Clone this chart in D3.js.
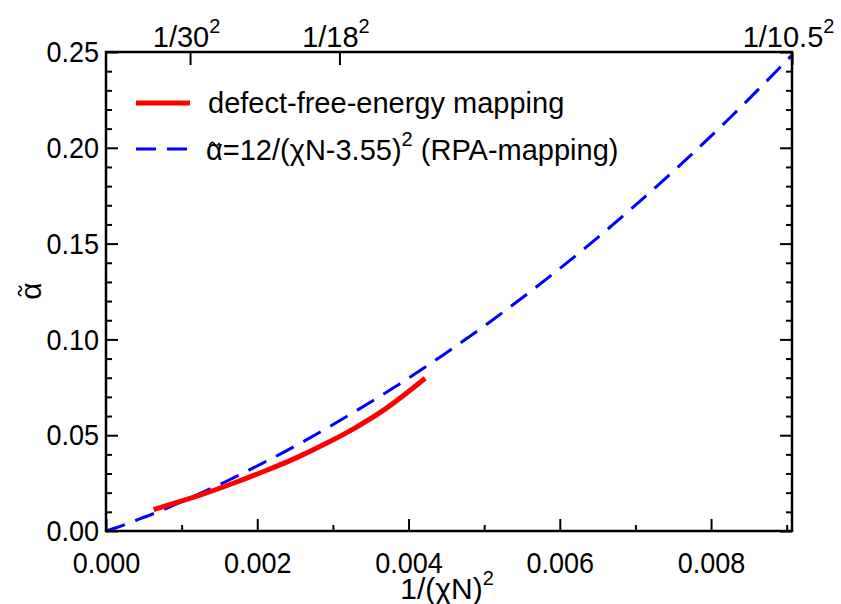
<!DOCTYPE html>
<html>
<head>
<meta charset="utf-8">
<script src="https://cdn.jsdelivr.net/npm/d3@7"></script>
<style>
  html, body { margin: 0; padding: 0; background: #fff; }
  svg text { font-family: "Liberation Sans", Arial, sans-serif; fill: #000; }
</style>
</head>
<body>
<svg id="chart" width="841" height="604"></svg>
<script>
// ── Data ──
// defect-free-energy mapping (red solid)
const redX = [0.00063, 0.0008, 0.0011, 0.0013, 0.0017, 0.0021, 0.0025, 0.0029, 0.0033, 0.0037, 0.00422];
const redY = [0.0112, 0.0133, 0.0169, 0.0195, 0.0252, 0.0313, 0.0379, 0.0455, 0.0540, 0.0639, 0.0797];
// RPA-mapping (blue dashed)
const blueX = [0, 0.0001, 0.000204, 0.0004, 0.000625, 0.000816, 0.001111, 0.0016, 0.002066, 0.0025, 0.003086, 0.003906, 0.004444, 0.005102, 0.005917, 0.006944, 0.008264, 0.00907];
const blueY = [0, 0.0013, 0.0027, 0.0056, 0.0090, 0.0121, 0.0172, 0.0261, 0.0353, 0.0443, 0.0575, 0.0774, 0.0915, 0.1099, 0.1344, 0.1681, 0.2162, 0.2484];

const xMajor = [0, 0.002, 0.004, 0.006, 0.008];
const xMinor = [0.001, 0.003, 0.005, 0.007, 0.009];
const yMajor = [0, 0.05, 0.10, 0.15, 0.20, 0.25];
const yMinor = [0.01, 0.02, 0.03, 0.04, 0.06, 0.07, 0.08, 0.09, 0.11, 0.12, 0.13, 0.14, 0.16, 0.17, 0.18, 0.19, 0.21, 0.22, 0.23, 0.24];
const topN = ["30", "18", "10.5"];
const topTicks = [1 / 900, 1 / 324, 1 / 110.25];

const legendLabels = ["defect-free-energy mapping", "=12/(\u03c7N-3.55)", " (RPA-mapping)"];

// ── Layout ──
const L = 106, R = 792, T = 52, B = 531;
const svg = d3.select("#chart");
const x = d3.scaleLinear().domain([0, 0.00907]).range([L, R]);
const y = d3.scaleLinear().domain([0, 0.25]).range([B, T]);
const FS = 30;

function styleAxis(g) {
  g.select(".domain").remove();
  g.selectAll("line").attr("stroke", "#000").attr("stroke-width", 2);
  g.selectAll("text").attr("font-size", FS).attr("font-family", null).attr("fill", "#000");
}
// labels in the original are a bit narrower than Arial
function narrow(sel, k) {
  sel.each(function () {
    const w = this.getComputedTextLength();
    if (w > 0) d3.select(this).attr("textLength", w * k).attr("lengthAdjust", "spacingAndGlyphs");
  });
}

// bottom
svg.append("g").attr("transform", `translate(0,${B})`)
  .call(d3.axisBottom(x).tickValues(xMajor).tickSize(-12).tickPadding(21).tickFormat(d3.format(".3f")))
  .call(styleAxis)
  .call(g => narrow(g.selectAll("text"), 0.9));
svg.append("g").attr("transform", `translate(0,${B})`)
  .call(d3.axisBottom(x).tickValues(xMinor).tickSize(-6).tickFormat(""))
  .call(styleAxis);

// left
svg.append("g").attr("transform", `translate(${L},0)`)
  .call(d3.axisLeft(y).tickValues(yMajor).tickSize(-12).tickPadding(7).tickFormat(d3.format(".2f")))
  .call(styleAxis)
  .call(g => narrow(g.selectAll("text"), 0.9));
svg.append("g").attr("transform", `translate(${L},0)`)
  .call(d3.axisLeft(y).tickValues(yMinor).tickSize(-6).tickFormat(""))
  .call(styleAxis);

// right
svg.append("g").attr("transform", `translate(${R},0)`)
  .call(d3.axisRight(y).tickValues(yMajor).tickSize(-12).tickFormat(""))
  .call(styleAxis);
svg.append("g").attr("transform", `translate(${R},0)`)
  .call(d3.axisRight(y).tickValues(yMinor).tickSize(-6).tickFormat(""))
  .call(styleAxis);

// top (secondary chiN axis)
const topAxis = svg.append("g").attr("transform", `translate(0,${T})`)
  .call(d3.axisTop(x).tickValues(topTicks).tickSize(-13).tickPadding(5).tickFormat(""))
  .call(styleAxis);
topAxis.selectAll(".tick text").each(function (d, i) {
  const t = d3.select(this).attr("x", -4).attr("font-size", 29);
  t.append("tspan").text("1/" + topN[i]);
  t.append("tspan").attr("font-size", 20).attr("dy", -14).text("2");
});

// ── Lines ──
const line = d3.line().x(d => x(d[0])).y(d => y(d[1])).curve(d3.curveMonotoneX);
svg.append("clipPath").attr("id", "clip")
  .append("rect").attr("x", L).attr("y", T - 2).attr("width", R - L + 1).attr("height", B - T + 2);

svg.append("path")
  .datum(blueX.map((v, i) => [v, blueY[i]]))
  .attr("d", line)
  .attr("fill", "none").attr("stroke", "#0000ff").attr("stroke-width", 3)
  .attr("stroke-dasharray", "20,11")
  .attr("clip-path", "url(#clip)");

svg.append("path")
  .datum(redX.map((v, i) => [v, redY[i]]))
  .attr("d", line)
  .attr("fill", "none").attr("stroke", "#ff0000").attr("stroke-width", 5);

// frame
svg.append("rect").attr("x", L).attr("y", T).attr("width", R - L).attr("height", B - T)
  .attr("fill", "none").attr("stroke", "#000").attr("stroke-width", 2.5);

// ── Legend ──
const LFS = 29;
const lg = svg.append("g");
lg.append("line").attr("x1", 136).attr("x2", 190).attr("y1", 103).attr("y2", 103)
  .attr("stroke", "#ff0000").attr("stroke-width", 5);
lg.append("text").attr("x", 208).attr("y", 113).attr("font-size", LFS).text(legendLabels[0]);
lg.append("line").attr("x1", 136).attr("x2", 190).attr("y1", 149).attr("y2", 149)
  .attr("stroke", "#0000ff").attr("stroke-width", 3).attr("stroke-dasharray", "20,11");
const lt = lg.append("text").attr("x", 206).attr("y", 160).attr("font-size", LFS);
lt.append("tspan").text("\u03b1");
lt.append("tspan").text(legendLabels[1]);
lt.append("tspan").attr("font-size", 20).attr("dy", -14).text("2");
lt.append("tspan").attr("dy", 14).text(legendLabels[2]);

function tilde(g, cx, cy, w) {
  const h = w / 4;
  g.append("path")
    .attr("d", `M${cx - w / 2},${cy + h / 2} Q${cx - w / 4},${cy - h * 1.5} ${cx},${cy} T${cx + w / 2},${cy - h / 2}`)
    .attr("fill", "none").attr("stroke", "#000").attr("stroke-width", 1.6);
}
let aw = 17;
try { aw = lt.node().getExtentOfChar(0).width; } catch (e) {}
tilde(lg, 206 + aw / 2, 144, 10);

// ── Axis titles ──
const xt = svg.append("text").attr("x", 447).attr("y", 599).attr("text-anchor", "middle").attr("font-size", FS);
xt.append("tspan").text("1/(\u03c7N)");
xt.append("tspan").attr("font-size", 20).attr("dy", -14).text("2");

const yl = svg.append("g").attr("transform", "translate(33,291) rotate(-90)");
yl.append("text").attr("x", 0).attr("y", 8).attr("text-anchor", "middle").attr("font-size", FS).text("\u03b1");
tilde(yl, 0, -13, 10);
</script>
</body>
</html>
